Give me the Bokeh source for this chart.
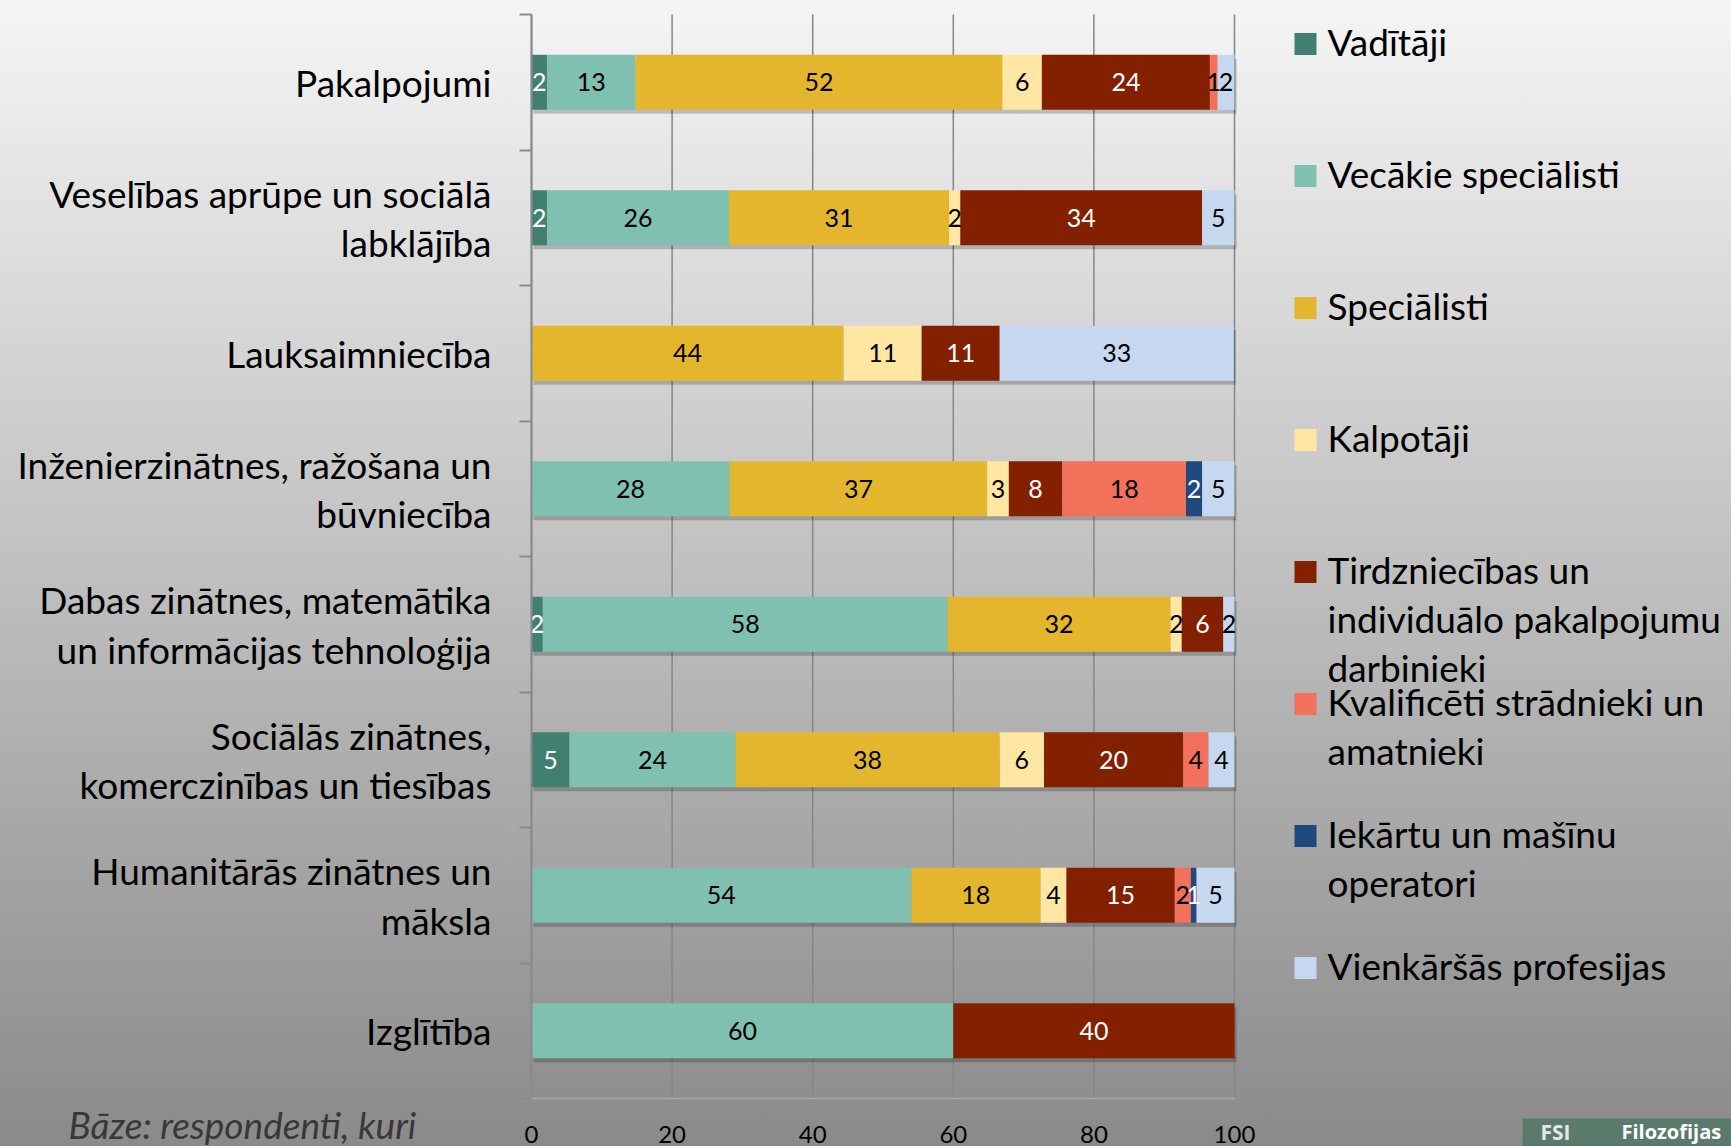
import numpy as np
from bokeh.plotting import figure
from bokeh.models import ColumnDataSource, FixedTicker, Range1d
from bokeh.core.properties import value
from bokeh.embed import file_html
from bokeh.resources import INLINE

# ---------------- data ----------------
categories = [
    "Pakalpojumi",
    "Veselības aprūpe un sociālā\nlabklājība",
    "Lauksaimniecība",
    "Inženierzinātnes, ražošana un\nbūvniecība",
    "Dabas zinātnes, matemātika\nun informācijas tehnoloģija",
    "Sociālās zinātnes,\nkomerczinības un tiesības",
    "Humanitārās zinātnes un\nmāksla",
    "Izglītība",
]
series_names = [
    "Vadītāji",
    "Vecākie speciālisti",
    "Speciālisti",
    "Kalpotāji",
    "Tirdzniecības un\nindividuālo pakalpojumu\ndarbinieki",
    "Kvalificēti strādnieki un\namatnieki",
    "Iekārtu un mašīnu\noperatori",
    "Vienkāršās profesijas",
]
vaditaji      = [2.2, 2.2, 0.0, 0.0, 1.6, 5.4, 0.0, 0.0]
vecakie       = [12.6, 25.9, 0.0, 28.2, 57.6, 23.6, 54.0, 60.0]
specialisti   = [52.2, 31.3, 44.4, 36.6, 31.7, 37.6, 18.4, 0.0]
kalpotaji     = [5.6, 1.6, 11.1, 3.1, 1.6, 6.3, 3.7, 0.0]
tirdzniecibas = [23.9, 34.4, 11.1, 7.6, 5.9, 19.8, 15.4, 40.0]
kvalificeti   = [1.1, 0.0, 0.0, 17.6, 0.0, 3.6, 2.3, 0.0]
iekartu       = [0.0, 0.0, 0.0, 2.3, 0.0, 0.0, 0.8, 0.0]
vienkarsas    = [2.4, 4.6, 33.3, 4.6, 1.6, 3.7, 5.4, 0.0]
x_ticks = [0, 20, 40, 60, 80, 100]
base_note = "Bāze: respondenti, kuri"
logo_mark = "FSI"
logo_text = "Filozofijas"

series_values = [vaditaji, vecakie, specialisti, kalpotaji,
                 tirdzniecibas, kvalificeti, iekartu, vienkarsas]
colors = ["#418070", "#80c0b0", "#e4b62e", "#ffe6a2",
          "#822000", "#f2715a", "#1f497d", "#c6d8f0"]
label_colors = ["white", "black", "black", "black",
                "white", "black", "white", "black"]

FONT = "Lato"
W, H = 1731, 1146
# plot-area placement in page pixels
FL, FR, FT, FB = 531, 1234, 14, 1098
n = len(categories)
ypos = [i + 0.5 for i in range(n)]
XMIN, XMAX = x_ticks[0], x_ticks[-1]
sx = (FR - FL) / (XMAX - XMIN)
sy = (FB - FT) / n

p = figure(width=W, height=H, output_backend="svg", toolbar_location=None,
           x_range=Range1d(XMIN - FL / sx, XMAX + (W - FR) / sx),
           y_range=Range1d(n + (H - FB) / sy, -FT / sy),
           min_border_left=0, min_border_right=0, min_border_top=0, min_border_bottom=0,
           styles={"background": "linear-gradient(to bottom, #f5f5f5 0%, #8a8a8a 100%)"})
p.background_fill_alpha = 0
p.border_fill_alpha = 0
p.outline_line_color = None
p.grid.visible = False
p.extra_x_ranges = {"px": Range1d(0, W)}
p.extra_y_ranges = {"px": Range1d(H, 0)}

# vertical grid lines over the category span
p.segment(x0=x_ticks, x1=x_ticks, y0=[0] * len(x_ticks), y1=[n] * len(x_ticks),
          line_color="#868686", line_width=1.5)

# bar shadows
totals = np.sum(np.array(series_values, dtype=float), axis=0)
shadow = ColumnDataSource(dict(y=[y + 0.03 for y in ypos], left=[0.3] * n,
                               right=(totals + 0.3).tolist()))
p.hbar(y="y", left="left", right="right", height=0.405, source=shadow,
       fill_color="black", fill_alpha=0.2, line_color=None)

# stacked bars
left = np.zeros(n)
label_x, label_y, label_t, label_c = [], [], [], []
for vals, col, lc in zip(series_values, colors, label_colors):
    vals = np.array(vals, dtype=float)
    right = left + vals
    src = ColumnDataSource(dict(y=ypos, left=left.tolist(), right=right.tolist()))
    p.hbar(y="y", left="left", right="right", height=0.405, source=src,
           fill_color=col, line_color=None)
    for i, v in enumerate(vals):
        if v > 0:
            label_x.append((left[i] + right[i]) / 2)
            label_y.append(ypos[i])
            label_t.append(str(int(v + 0.5)))
            label_c.append(lc)
    left = right

lsrc = ColumnDataSource(dict(x=label_x, y=label_y, t=label_t, c=label_c))
p.text(x="x", y="y", text="t", source=lsrc, text_color="c",
       text_align="center", text_baseline="middle",
       text_font=value(FONT), text_font_size="25px")

# ---------------- axes (pinned to the plot area) ----------------
xa = p.xaxis[0]
xa.fixed_location = n
xa.bounds = (XMIN, XMAX)
xa.ticker = FixedTicker(ticks=x_ticks)
xa.major_tick_line_color = None
xa.minor_tick_line_color = None
xa.axis_line_color = "#a8a8a8"
xa.axis_line_width = 1.5
xa.major_label_text_font = FONT
xa.major_label_text_font_size = "24px"
xa.major_label_text_color = "black"
xa.major_label_standoff = 21

ya = p.yaxis[0]
ya.fixed_location = XMIN
ya.bounds = (0, n)
ya.ticker = FixedTicker(ticks=ypos, minor_ticks=list(range(n + 1)))
ya.major_label_overrides = {y: c for y, c in zip(ypos, categories)}
ya.major_tick_line_color = None
ya.minor_tick_out = 12
ya.minor_tick_in = 0
ya.minor_tick_line_color = "#8a8a8a"
ya.minor_tick_line_width = 2
ya.axis_line_color = "#8a8a8a"
ya.axis_line_width = 2
ya.major_label_text_font = FONT
ya.major_label_text_font_size = "37px"
ya.major_label_text_color = "black"
ya.major_label_text_line_height = 1.1
ya.major_label_standoff = 28

# ---------------- legend (page-pixel layout) ----------------
LEG_X, LEG_Y0, LEG_STEP, SQ = 1294, 43.5, 132, 22
TXT_X, LINE_STEP = 1327, 49
sq_x, sq_y, tx, ty, tt = [], [], [], [], []
for k, name in enumerate(series_names):
    cy = LEG_Y0 + k * LEG_STEP
    sq_x.append(LEG_X + SQ / 2)
    sq_y.append(cy)
    for j, line in enumerate(name.split("\n")):
        tx.append(TXT_X)
        ty.append(cy - 3 + j * LINE_STEP)
        tt.append(line)
p.rect(x=sq_x, y=sq_y, width=SQ, height=SQ, fill_color=colors, line_color=None,
       x_range_name="px", y_range_name="px")
p.text(x=tx, y=ty, text=tt, text_font=value(FONT), text_font_size="37px",
       text_color="black", text_baseline="middle", text_align="left",
       x_range_name="px", y_range_name="px")

# note at bottom-left
p.text(x=[68], y=[1124], text=[base_note], text_font=value(FONT), text_font_style="italic",
       text_font_size="37px", text_color="#383838", text_baseline="middle",
       x_range_name="px", y_range_name="px")

# logo box bottom-right
p.quad(left=[1522], right=[W], top=[1118], bottom=[H], fill_color="#5a7a6c", line_color=None,
       x_range_name="px", y_range_name="px")
p.text(x=[1540], y=[1131], text=[logo_mark], text_font=value("Open Sans"),
       text_font_style="bold", text_font_size="21px", text_color="#e6e6e6",
       text_baseline="middle", x_range_name="px", y_range_name="px")
p.text(x=[1621], y=[1131], text=[logo_text], text_font=value("Open Sans"),
       text_font_style="bold", text_font_size="20px", text_color="white",
       text_baseline="middle", x_range_name="px", y_range_name="px")

open("out.html", "w").write(file_html(p, INLINE))
